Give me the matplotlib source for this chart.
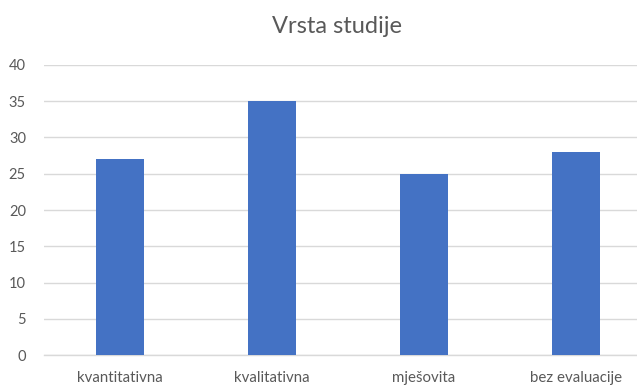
import matplotlib
matplotlib.use("Agg")
import matplotlib.pyplot as plt

categories = ["kvantitativna", "kvalitativna", "mješovita", "bez evaluacije"]
values = [27, 35, 25, 28]
yticks = [0, 5, 10, 15, 20, 25, 30, 35, 40]

W, H = 637, 385
fig = plt.figure(figsize=(W / 100, H / 100), dpi=100)
left, right = 44 / W, 652 / W
bottom, top = 1 - 355.3 / H, 1 - 64.7 / H
ax = fig.add_axes([left, bottom, right - left, top - bottom])

font = "Lato"
ax.bar(range(len(categories)), values, width=0.31, color="#4472C4", zorder=3)
ax.set_xlim(-0.5, len(categories) - 0.5)
ax.set_ylim(0, 40)
ax.set_yticks(yticks)
ax.set_yticklabels([str(v) for v in yticks], fontsize=10.5, color="#595959", family=font)
ax.set_xticks(range(len(categories)))
ax.set_xticklabels(categories, fontsize=10.8, color="#595959", family=font)
ax.tick_params(axis="x", length=0, pad=11)
ax.tick_params(axis="y", length=0, pad=13)
ax.grid(axis="y", color="#D9D9D9", linewidth=1, zorder=0)
for s in ["top", "right", "left"]:
    ax.spines[s].set_visible(False)
ax.spines["bottom"].set_color("#D9D9D9")
ax.spines["bottom"].set_linewidth(1)

fig.text(336.5 / W, 1 - 33 / H, "Vrsta studije", ha="center", va="baseline",
         fontsize=17, color="#595959", family=font)

fig.savefig("out.png", dpi=100)
